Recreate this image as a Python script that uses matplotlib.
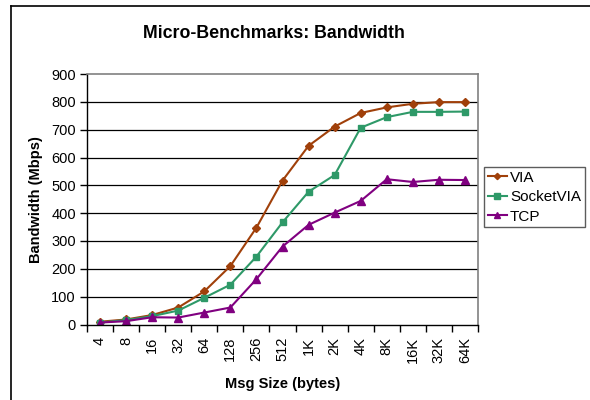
import matplotlib
matplotlib.use("Agg")
import matplotlib.pyplot as plt
from matplotlib.lines import Line2D
import numpy as np

plt.rcParams['font.family'] = ['Liberation Sans', 'DejaVu Sans']

sizes = ["4", "8", "16", "32", "64", "128", "256", "512",
         "1K", "2K", "4K", "8K", "16K", "32K", "64K"]
via = [10, 18, 34, 61, 119, 210, 348, 517, 642, 711, 760, 780, 793, 799, 799]
socketvia = [7, 16, 30, 50, 96, 143, 244, 367, 477, 537, 707, 745, 764, 764, 765]
tcp = [7, 12, 26, 25, 43, 61, 163, 280, 358, 402, 444, 522, 512, 520, 519]
y_ticks = [0, 100, 200, 300, 400, 500, 600, 700, 800, 900]

fig = plt.figure(figsize=(5.9, 4.0), dpi=100)
ax = fig.add_axes([87 / 590, 1 - 324.5 / 400, (478 - 87) / 590, (324.5 - 74) / 400])

x = np.arange(len(sizes))
ax.plot(x, via, color="#A0400A", lw=1.5, marker="D", ms=4, label="VIA")
ax.plot(x, socketvia, color="#2E9968", lw=1.5, marker="s", ms=4.8, label="SocketVIA")
ax.plot(x, tcp, color="#800080", lw=1.5, marker="^", ms=5.5, label="TCP")

ax.set_xlim(-0.5, len(sizes) - 0.5)
ax.set_ylim(0, 900)
ax.set_yticks(y_ticks)
ax.set_xticks(x)
ax.set_xticklabels(sizes, rotation=90, fontsize=10.5)
ax.set_xticks(np.arange(-0.5, len(sizes), 1.0), minor=True)
ax.tick_params(axis="x", which="major", length=0, pad=9)
ax.tick_params(axis="x", which="minor", length=5, width=1, direction="out")
ax.tick_params(axis="y", length=5, width=1, direction="out", labelsize=10.5, pad=3)

for v in y_ticks[1:-1]:
    ax.axhline(v, color="black", lw=0.9, zorder=0)
ax.spines["top"].set_color("#808080")
ax.spines["right"].set_color("#808080")
ax.spines["top"].set_linewidth(1.2)
ax.spines["right"].set_linewidth(1.2)
ax.spines["left"].set_linewidth(1.0)
ax.spines["bottom"].set_linewidth(1.0)

ax.set_xlabel("Msg Size (bytes)", fontsize=10.5, fontweight="bold", labelpad=10)
ax.set_ylabel("Bandwidth (Mbps)", fontsize=10.5, fontweight="bold", labelpad=6)
fig.text(274 / 590, 1 - 33 / 400, "Micro-Benchmarks: Bandwidth",
         fontsize=12.8, fontweight="bold", ha="center", va="center")

leg = fig.legend(loc="upper left", bbox_to_anchor=(484 / 590, 1 - 167 / 400),
                 prop={"size": 11}, frameon=True, fancybox=False, edgecolor="#333333",
                 handlelength=1.25, handletextpad=0.2, borderpad=0.25,
                 labelspacing=0.35, borderaxespad=0, markerscale=0.8)
leg.get_frame().set_linewidth(1.0)

# chart-area frame: only its left and top edges fall inside the canvas
fl, ft = 10.5 / 590, 1 - 5.5 / 400
fig.add_artist(Line2D([fl, fl], [-0.01, ft], transform=fig.transFigure,
                      color="black", lw=1.2))
fig.add_artist(Line2D([fl, 1.01], [ft, ft], transform=fig.transFigure,
                      color="black", lw=1.2))

fig.savefig("out.png", dpi=100)
